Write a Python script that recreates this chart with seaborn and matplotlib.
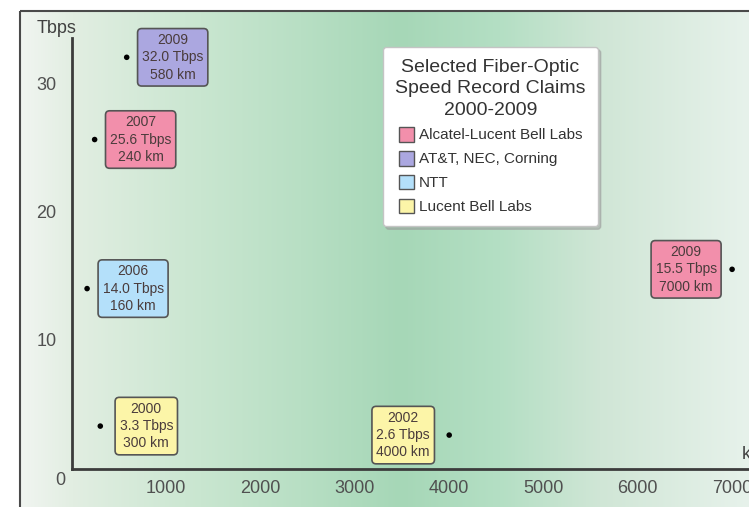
import numpy as np
import pandas as pd
import matplotlib
matplotlib.use("Agg")
import matplotlib.pyplot as plt
from matplotlib.patches import Patch, Rectangle
from matplotlib.colors import to_rgb
import seaborn as sns

# Speed record claims
years = [2000, 2002, 2006, 2007, 2009, 2009]
labs = ["Lucent Bell Labs", "Lucent Bell Labs", "NTT",
        "Alcatel-Lucent Bell Labs", "AT&T, NEC, Corning",
        "Alcatel-Lucent Bell Labs"]
tbps = [3.3, 2.6, 14.0, 25.6, 32.0, 15.5]
distance_km = [300, 4000, 160, 240, 580, 7000]

legend_order = ["Alcatel-Lucent Bell Labs", "AT&T, NEC, Corning", "NTT", "Lucent Bell Labs"]
lab_colors = {"Alcatel-Lucent Bell Labs": "#f28fab",
              "AT&T, NEC, Corning": "#aba7e0",
              "NTT": "#b4e0fa",
              "Lucent Bell Labs": "#fcf5a8"}

x_ticks = [1000, 2000, 3000, 4000, 5000, 6000, 7000]
y_ticks = [10, 20, 30]
legend_title = "Selected Fiber-Optic\nSpeed Record Claims\n2000-2009"

df = pd.DataFrame({"year": years, "lab": labs, "tbps": tbps, "km": distance_km})

sns.set_style("white")
plt.rcParams["font.family"] = ["Liberation Sans", "DejaVu Sans"]

W, H = 749, 507
fig = plt.figure(figsize=(W / 100, H / 100), dpi=100)

# background panel: horizontal green band inside a dark frame
bg = fig.add_axes([0, 0, 1, 1])
bg.set_xlim(0, W)
bg.set_ylim(H, 0)
bg.axis("off")
stops_px = [20, 72, 200, 300, 400, 500, 600, 749]
stops_col = ["#f1f5f1", "#e2eee2", "#c9e6d0", "#b8dfc4", "#a6d7b7",
             "#b4dfc4", "#d0e6d6", "#e7f2eb"]
cols = np.array([to_rgb(c) for c in stops_col])
xs = np.arange(W)
row = np.stack([np.interp(xs, stops_px, cols[:, k]) for k in range(3)], axis=-1)
img = np.ones((H, W, 3))
img[11:, 20:, :] = row[20:][None, :, :]
bg.imshow(img, extent=[0, W, H, 0], aspect="auto", interpolation="bilinear")
bg.add_patch(Rectangle((20, 11), 900, 700, fill=False, edgecolor="#4a4a4a", lw=1.5))

# main chart axes
ax = fig.add_axes([0, 0, 1, 1])
ax.patch.set_alpha(0)
x0_px, px_per_km = 72, 0.0943
y0_px, px_per_t = 468.5, 12.85
ax.set_xlim(-x0_px / px_per_km, (W - x0_px) / px_per_km)
ax.set_ylim(-(H - y0_px) / px_per_t, y0_px / px_per_t)

sns.scatterplot(data=df, x="km", y="tbps", color="black", s=16,
                edgecolor="none", ax=ax, legend=False, zorder=6)

for spine in ["top", "right"]:
    ax.spines[spine].set_visible(False)
ax.spines["left"].set_position(("data", 0))
ax.spines["bottom"].set_position(("data", 0))
ax.spines["left"].set_bounds(0, 33.5)
ax.spines["bottom"].set_bounds(0, 8000)
for spine in ["left", "bottom"]:
    ax.spines[spine].set_color("#3c3c3c")
    ax.spines[spine].set_linewidth(2)

ax.set_xticks(x_ticks)
ax.set_yticks(y_ticks)
ax.tick_params(axis="both", direction="out", length=7, width=1.5,
               color="#3c3c3c", labelsize=13, labelcolor="#505050")
ax.tick_params(axis="x", pad=1)
ax.tick_params(axis="y", pad=4)
ax.set_xlabel("")
ax.set_ylabel("")

ax.annotate("0", xy=(0, 0), xytext=(-12, -12), textcoords="offset pixels",
            ha="center", va="center", fontsize=13, color="#505050")
ax.annotate("Tbps", xy=(0, 33.5), xytext=(-15, 10), textcoords="offset pixels",
            ha="center", va="center", fontsize=13, color="#404040")
ax.annotate("km", xy=(7105, 0), xytext=(0, 14), textcoords="offset pixels",
            ha="left", va="center", fontsize=13, color="#404040",
            annotation_clip=False)

# labelled boxes beside each record
for _, r in df.iterrows():
    side = -1 if r.km > 3000 else 1
    ax.annotate(f"{r.year}\n{r.tbps:.1f} Tbps\n{r.km} km",
                xy=(r.km, r.tbps), xytext=(side * 46, 0),
                textcoords="offset pixels", ha="center", va="center",
                fontsize=10, color="#4a3c3c", zorder=5, linespacing=1.3,
                bbox=dict(boxstyle="round,pad=0.32,rounding_size=0.3",
                          fc=lab_colors[r.lab], ec="#555555", lw=1.2))

handles = [Patch(facecolor=lab_colors[l], edgecolor="#555555", lw=1.0, label=l)
           for l in legend_order]
leg = ax.legend(handles=handles, title=legend_title, loc="upper left",
                bbox_to_anchor=(383 / W, 1 - 47 / H), bbox_transform=fig.transFigure,
                borderaxespad=0,
                fontsize=11, title_fontsize=14, frameon=True, fancybox=True,
                framealpha=1, edgecolor="#c4c4c4", facecolor="white",
                handlelength=1.0, handleheight=1.1, handletextpad=0.3,
                labelspacing=0.55, borderpad=0.8,
                shadow={"color": "#9a9a9a", "alpha": 0.5})
leg.get_title().set_color("#333333")
leg.get_title().set_multialignment("center")
leg.get_title().set_linespacing(1.32)
for t in leg.get_texts():
    t.set_color("#333333")

fig.savefig("out.png", dpi=100)
